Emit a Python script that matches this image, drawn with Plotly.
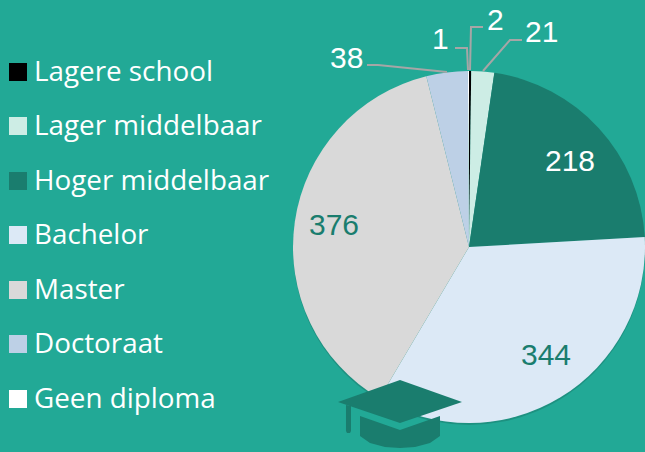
import plotly.graph_objects as go

W, H = 645, 452
categories = ["Lagere school", "Lager middelbaar", "Hoger middelbaar", "Bachelor", "Master", "Doctoraat", "Geen diploma"]
values = [2, 21, 218, 344, 376, 38, 1]
colors = ["#000000", "#CDEDE5", "#1A7D6E", "#DCE9F6", "#D9D9D9", "#BDD0E6", "#FFFFFF"]
BG = "#22A996"
DARK = "#1A7D6E"
GRAY = "#A6A6A6"

# layout only: pixel positions of decoration and labels
label_pos = [(495, 20), (541, 31), (570, 161), (546, 354), (334, 225), (346, 57), (441, 39)]
label_col = ["#FFFFFF", "#FFFFFF", "#FFFFFF", DARK, DARK, "#FFFFFF", "#FFFFFF"]
leaders = [[(483, 27), (471, 27), (470, 70)], [(522, 40), (510, 40), (483, 71)],
           [(367, 65), (378, 65), (447, 72)], [(455, 48), (467, 48), (468, 70)]]
legend_y = [72, 126, 181, 235, 290, 344, 399]
CX, CY, R = 469, 247, 176


def px(x): return x / W
def py(y): return 1 - y / H
def path(pts, close=False):
    return "M" + " L".join(f"{px(x):.5f},{py(y):.5f}" for x, y in pts) + (" Z" if close else "")


fig = go.Figure(go.Pie(
    labels=categories, values=values, sort=False, direction="clockwise", rotation=0,
    marker=dict(colors=colors, line=dict(width=0)), textinfo="none", hoverinfo="label+value",
    domain=dict(x=[px(CX - R), px(CX + R)], y=[py(CY + R), py(CY - R)]),
    showlegend=False,
))

shapes = [
    dict(type="circle", xref="paper", yref="paper", layer="below", x0=px(CX - R), x1=px(CX + R),
         y0=py(CY + R + 2), y1=py(CY - R + 2), fillcolor="rgba(0,0,0,0.14)", line_width=0),
]
for pts in leaders:
    shapes.append(dict(type="path", xref="paper", yref="paper", path=path(pts), line=dict(color=GRAY, width=2)))
for y, c in zip(legend_y, colors):
    shapes.append(dict(type="rect", xref="paper", yref="paper", x0=px(9), x1=px(27), y0=py(y + 9), y1=py(y - 9),
                       fillcolor=c, line_width=0))
# graduation cap
shapes += [
    dict(type="path", xref="paper", yref="paper", fillcolor=DARK, line_width=0,
         path=path([(338, 402), (400, 380), (462, 402), (400, 423)], True)),
    dict(type="path", xref="paper", yref="paper", fillcolor=DARK, line_width=0,
         path=path([(360, 416), (400, 430), (440, 416), (440, 436), (430, 443), (415, 447), (400, 448),
                    (385, 447), (370, 443), (360, 436)], True)),
    dict(type="path", xref="paper", yref="paper", fillcolor=DARK, line_width=0,
         path=path([(346, 405), (351, 406), (351, 431), (350, 433), (347, 433), (346, 431)], True)),
]

ann = []
for (x, y), v, c in zip(label_pos, values, label_col):
    ann.append(dict(x=px(x), y=py(y), xref="paper", yref="paper", text=str(v), showarrow=False,
                    font=dict(family="Liberation Sans", size=30, color=c), xanchor="center", yanchor="middle"))
for y, t in zip(legend_y, categories):
    ann.append(dict(x=px(32), y=py(y - 2), xref="paper", yref="paper", text=t, showarrow=False,
                    font=dict(family="Open Sans", size=27.8, color="#FFFFFF"), xanchor="left", yanchor="middle"))

fig.update_layout(width=W, height=H, margin=dict(l=0, r=0, t=0, b=0), paper_bgcolor=BG, plot_bgcolor=BG,
                  shapes=shapes, annotations=ann)
fig.write_html("out.html", config=dict(displayModeBar=False),
               post_script="document.body.style.margin='0';document.body.style.background='#22A996';document.documentElement.style.overflow='hidden';")
